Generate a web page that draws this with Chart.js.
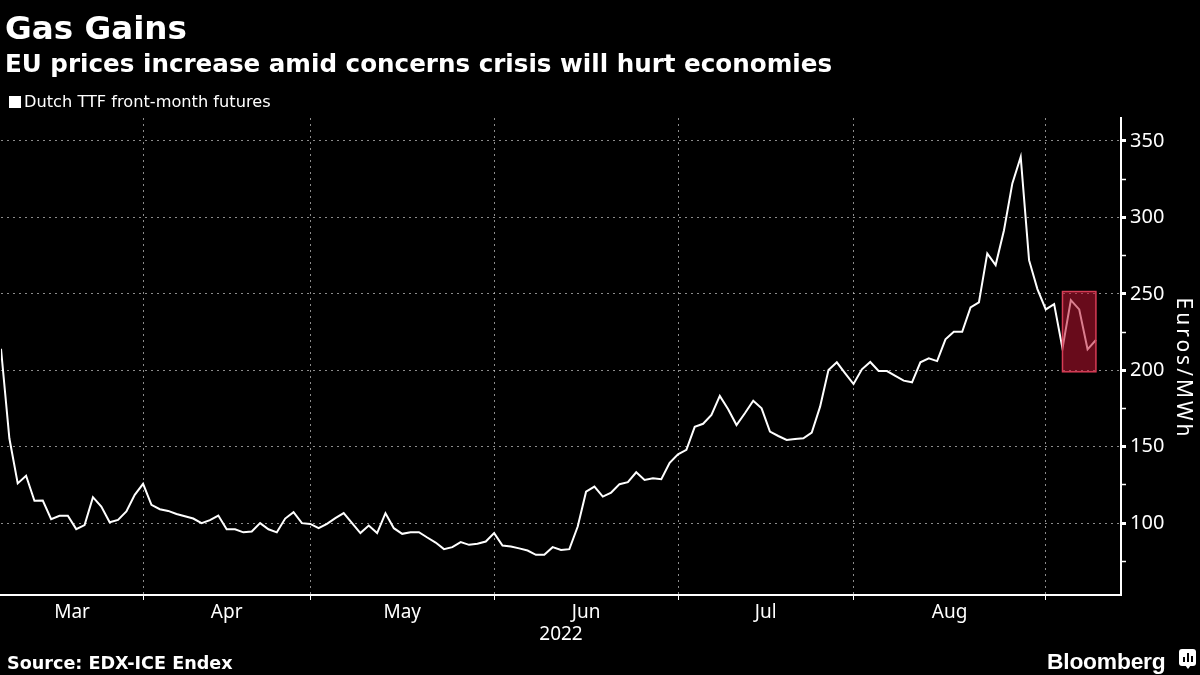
<!DOCTYPE html>
<html>
<head>
<meta charset="utf-8">
<script src="https://cdn.jsdelivr.net/npm/chart.js@4.4.0/dist/chart.umd.min.js"></script>
<style>
  html, body { margin: 0; padding: 0; background: #000; }
  #wrap { position: relative; width: 1200px; height: 675px; overflow: hidden; background: #000; color: #fff; }
  #chart { position: absolute; left: 0; top: 0; }
  .txt { position: absolute; white-space: nowrap; line-height: 1; color: #fff; }
  #title { left: 5px; top: 9px; font: bold 32.6px "DejaVu Sans"; }
  #subtitle { left: 5px; top: 49px; font: bold 24.6px "DejaVu Sans"; }
  #legend { left: 9px; top: 92px; font: 16.2px "DejaVu Sans"; }
  #legend .box { display: inline-block; width: 12px; height: 12px; background: #fff; margin-right: 3px; vertical-align: -1px; }
  #source { left: 7px; top: 653px; font: bold 17.6px "DejaVu Sans"; }
  #brand { left: 1047px; top: 648px; font: bold 22.8px "Liberation Sans"; letter-spacing: -0.2px; }
  #icon { position: absolute; left: 1179px; top: 649px; width: 17px; height: 17px; background: #fff; border-radius: 3px; }
  #icon i { position: absolute; bottom: 4px; width: 2px; background: #000; }
  #icon b { position: absolute; left: 6px; top: 16px; width: 0; height: 0; border-left: 3px solid transparent; border-right: 3px solid transparent; border-top: 4px solid #fff; }
</style>
</head>
<body>
<div id="wrap">
  <canvas id="chart" width="1200" height="675"></canvas>
  <div class="txt" id="title">Gas Gains</div>
  <div class="txt" id="subtitle">EU prices increase amid concerns crisis will hurt economies</div>
  <div class="txt" id="legend"><span class="box"></span>Dutch TTF front-month futures</div>
  <div class="txt" id="source">Source: EDX-ICE Endex</div>
  <div class="txt" id="brand">Bloomberg</div>
  <div id="icon"><i style="left:4px;height:5px"></i><i style="left:8px;height:9px"></i><i style="left:12px;height:6px"></i><b></b></div>
</div>
<script>
// trading days per month (2022)
const tradingDays = {
  '2022-03': [9, 10, 11, 14, 15, 16, 17, 18, 21, 22, 23, 24, 25, 28, 29, 30, 31],
  '2022-04': [1, 4, 5, 6, 7, 8, 11, 12, 13, 14, 18, 19, 20, 21, 22, 25, 26, 27, 28, 29],
  '2022-05': [2, 3, 4, 5, 6, 9, 10, 11, 12, 13, 16, 17, 18, 19, 20, 23, 24, 25, 26, 27, 30, 31],
  '2022-06': [1, 2, 3, 6, 7, 8, 9, 10, 13, 14, 15, 16, 17, 20, 21, 22, 23, 24, 27, 28, 29, 30],
  '2022-07': [1, 4, 5, 6, 7, 8, 11, 12, 13, 14, 15, 18, 19, 20, 21, 22, 25, 26, 27, 28, 29],
  '2022-08': [1, 2, 3, 4, 5, 8, 9, 10, 11, 12, 15, 16, 17, 18, 19, 22, 23, 24, 25, 26, 29, 30, 31],
  '2022-09': [1, 2, 5, 6, 7, 8, 9]
};
const monthLabels = ['Mar', 'Apr', 'May', 'Jun', 'Jul', 'Aug'];
const yearLabel = '2022';
const yAxisLabel = 'Euros/MWh';

// Dutch TTF front-month, EUR/MWh
const ttfMar = [214, 155.5, 126, 131, 114.6, 114.8, 102.6, 104.8, 104.8, 96.1, 98.7, 117, 110.8, 100.6, 102.1, 107.6, 118.5];
const ttfApr = [125.7, 112, 109.1, 108, 106, 104.5, 103, 100, 102, 105, 96, 96, 94, 94.5, 100, 96, 94, 103, 107.2, 100];
const ttfMay = [99.5, 96.7, 99.5, 103.3, 106.6, 100, 93.5, 98.4, 93.5, 106.5, 96.7, 93, 94.1, 94.1, 90.6, 87.3, 83, 84.3, 87.6, 85.8, 86.5, 88];
const ttfJun = [93.5, 85.4, 84.7, 83.5, 82.1, 79.3, 79.3, 84.3, 82.5, 83, 97.8, 120.6, 123.9, 117.4, 120, 125.5, 126.8, 133.3, 128.3, 129.4, 128.7, 139.5];
const ttfJul = [145, 148, 163, 165, 170.8, 183.2, 174.5, 164.2, 171.9, 180.1, 175.1, 159.9, 157, 154.4, 155.1, 155.5, 159.2, 176.2, 200.2, 205.2, 198];
const ttfAug = [191, 200.6, 205.4, 199.5, 199.5, 196.3, 193.2, 192.1, 205.2, 207.8, 206, 220.2, 225.2, 225.2, 241.1, 244.4, 276.4, 268.8, 291.6, 322.2, 339.5, 272, 253.1];
const ttfSep = [239.8, 243.3, 214.3, 245.9, 239.8, 213.7, 219.8];

const yTickValues = [75, 100, 125, 150, 175, 200, 225, 250, 275, 300, 325, 350];

// highlighted recent range
const highlightFrom = '2022-09-05';
const highlightLow = 199;
const highlightHigh = 251.5;

const dates = [];
const monthStarts = [];
Object.keys(tradingDays).forEach(m => {
  monthStarts.push(dates.length);
  tradingDays[m].forEach(d => dates.push(m + '-' + String(d).padStart(2, '0')));
});
const values = [].concat(ttfMar, ttfApr, ttfMay, ttfJun, ttfJul, ttfAug, ttfSep);
const points = values.map((v, i) => ({ x: i, y: v }));

const boundaries = monthStarts.slice(1);
const labelAt = new Map();
monthLabels.forEach((name, k) => labelAt.set((monthStarts[k] + monthStarts[k + 1]) / 2, name));

const gridGray = 'rgba(200,200,200,0.7)';

const highlightBox = {
  id: 'highlightBox',
  afterDatasetsDraw(chart) {
    const { ctx, scales: { x, y } } = chart;
    const x1 = x.getPixelForValue(dates.indexOf(highlightFrom));
    const x2 = x.getPixelForValue(dates.length - 1);
    const y1 = y.getPixelForValue(highlightHigh);
    const y2 = y.getPixelForValue(highlightLow);
    ctx.save();
    ctx.setLineDash([]);
    ctx.fillStyle = 'rgba(190,20,50,0.55)';
    ctx.fillRect(x1, y1, x2 - x1, y2 - y1);
    ctx.strokeStyle = 'rgb(215,60,85)';
    ctx.lineWidth = 1.5;
    ctx.strokeRect(x1, y1, x2 - x1, y2 - y1);
    ctx.restore();
  }
};

// right axis title, drawn with some letter spacing like the original
const yTitle = {
  id: 'yTitle',
  afterDraw(chart) {
    const { ctx, chartArea } = chart;
    ctx.save();
    ctx.translate(1183, (chartArea.top + chartArea.bottom) / 2 + 12);
    ctx.rotate(Math.PI / 2);
    ctx.font = '21px "Noto Sans"';
    if ('letterSpacing' in ctx) ctx.letterSpacing = '3px';
    ctx.fillStyle = '#fff';
    ctx.textAlign = 'center';
    ctx.textBaseline = 'middle';
    ctx.fillText(yAxisLabel, 0, 0);
    ctx.restore();
  }
};

const config = {
  type: 'line',
  data: {
    datasets: [{
      label: 'Dutch TTF front-month futures',
      data: points,
      borderColor: '#fff',
      borderWidth: 2,
      pointRadius: 0,
      tension: 0
    }]
  },
  options: {
    responsive: false,
    animation: false,
    devicePixelRatio: 1,
    layout: { padding: { top: 118, left: 1, right: 0, bottom: 25 } },
    plugins: {
      legend: { display: false },
      title: { display: false },
      tooltip: { enabled: false }
    },
    scales: {
      x: {
        type: 'linear',
        min: 0,
        max: 134,
        afterBuildTicks: s => {
          const vals = boundaries.concat([...labelAt.keys()]).sort((a, b) => a - b);
          s.ticks = vals.map(v => ({ value: v }));
        },
        afterFit: s => { s.height = 55; },
        ticks: {
          autoSkip: false,
          maxRotation: 0,
          padding: 1,
          color: '#fff',
          font: { family: 'Noto Sans', size: 19 },
          callback: v => labelAt.get(v) || ''
        },
        grid: {
          color: c => (c.tick && boundaries.includes(c.tick.value)) ? gridGray : 'transparent',
          tickColor: c => (c.tick && boundaries.includes(c.tick.value)) ? '#fff' : 'transparent',
          lineWidth: 1,
          tickLength: 5
        },
        border: { color: '#fff', width: 2, dash: [2, 4] },
        title: {
          display: true,
          text: yearLabel,
          color: '#fff',
          font: { family: 'Noto Sans', size: 19 },
          padding: { top: 0, bottom: 4 }
        }
      },
      y: {
        position: 'right',
        min: 53,
        max: 365,
        afterBuildTicks: s => { s.ticks = yTickValues.map(v => ({ value: v })); },
        afterFit: s => { s.width = 79; },
        ticks: {
          autoSkip: false,
          padding: 4,
          color: '#fff',
          font: { family: 'Noto Sans', size: 20 },
          callback: v => v % 50 === 0 ? v : ''
        },
        grid: {
          color: c => (c.tick && c.tick.value % 50 === 0) ? gridGray : 'transparent',
          tickColor: '#fff',
          tickWidth: c => (c.tick && c.tick.value % 50 === 0) ? 3 : 1.5,
          lineWidth: 1,
          tickLength: 5
        },
        border: { color: '#fff', width: 2, dash: [2, 4] },
        title: { display: false }
      }
    }
  },
  plugins: [highlightBox, yTitle]
};

window.addEventListener('load', function () {
  new Chart(document.getElementById('chart'), config);
});
</script>
</body>
</html>
